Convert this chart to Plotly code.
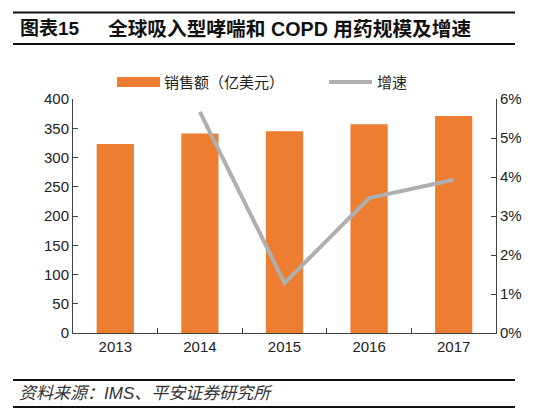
import plotly.graph_objects as go

years = ["2013", "2014", "2015", "2016", "2017"]
sales = [323, 341, 345, 357, 371]
growth = [None, 0.0567, 0.0128, 0.0346, 0.0393]

title_no = "图表15"
title_text = "全球吸入型哮喘和 COPD 用药规模及增速"
source_text = "资料来源：IMS、平安证券研究所"
bar_name = "销售额（亿美元）"
line_name = "增速"

bar_color = "#ED7D31"
line_color = "#AFAFAF"
axis_color = "#404040"
font_lat = "Liberation Sans, Arial, Noto Sans CJK SC"
font_cjk = "Liberation Sans, Noto Sans CJK SC"

# the page body has an 8px margin, so the figure is drawn 8px smaller and
# every position below is given in page pixels and shifted back by OFF
OFF = 8
W, H = 554 - OFF, 418 - OFF
ml, mr, mt, mb = 73 - OFF, 58, 99 - OFF, 85
pw, ph = W - ml - mr, H - mt - mb


def px(x):
    return (x - OFF - ml) / pw


def py(y):
    return (H - mb - (y - OFF)) / ph


fig = go.Figure()
fig.add_trace(go.Bar(x=years, y=sales, name=bar_name, marker_color=bar_color,
                     marker_line_width=0, showlegend=False))
fig.add_trace(go.Scatter(x=years, y=growth, name=line_name, yaxis="y2",
                         mode="lines", line=dict(color=line_color, width=4),
                         showlegend=False))

shapes = []
# title rules and source rules
for yy in [12.5, 44, 380, 407]:
    shapes.append(dict(type="line", xref="paper", yref="paper",
                       x0=px(13), x1=px(515), y0=py(yy), y1=py(yy),
                       line=dict(color="#111", width=2)))
# manual legend
shapes.append(dict(type="rect", xref="paper", yref="paper",
                   x0=px(117), x1=px(160), y0=py(87), y1=py(77),
                   fillcolor=bar_color, line_width=0))
shapes.append(dict(type="line", xref="paper", yref="paper",
                   x0=px(329), x1=px(372), y0=py(82), y1=py(82),
                   line=dict(color=line_color, width=4)))

annotations = [
    dict(text="<b>" + title_no + "</b>", x=px(18), y=py(29), xref="paper", yref="paper",
         xanchor="left", yanchor="middle", showarrow=False,
         font=dict(size=19, color="#111", family=font_cjk)),
    dict(text="<b>" + title_text + "</b>", x=px(106), y=py(29), xref="paper", yref="paper",
         xanchor="left", yanchor="middle", showarrow=False,
         font=dict(size=19.7, color="#111", family=font_cjk)),
    dict(text=bar_name, x=px(162), y=py(82), xref="paper", yref="paper",
         xanchor="left", yanchor="middle", showarrow=False,
         font=dict(size=15, color="#222", family=font_cjk)),
    dict(text=line_name, x=px(375), y=py(82), xref="paper", yref="paper",
         xanchor="left", yanchor="middle", showarrow=False,
         font=dict(size=15, color="#222", family=font_cjk)),
    dict(text="<i>" + source_text + "</i>", x=px(17), y=py(393), xref="paper", yref="paper",
         xanchor="left", yanchor="middle", showarrow=False,
         font=dict(size=17, color="#333", family=font_cjk)),
]

fig.update_layout(
    width=W, height=H,
    margin=dict(l=ml, r=mr, t=mt, b=mb),
    paper_bgcolor="white", plot_bgcolor="white",
    bargap=0.56,
    showlegend=False,
    font=dict(family=font_lat, size=15, color="#222"),
    xaxis=dict(type="category", showline=True, linecolor=axis_color, linewidth=1,
               ticks="inside", ticklen=5, tickcolor=axis_color, tickson="boundaries",
               showgrid=False, tickfont=dict(size=15)),
    yaxis=dict(range=[0, 400], dtick=50, showline=True, linecolor=axis_color,
               ticks="inside", ticklen=5, tickcolor=axis_color, showgrid=False,
               zeroline=False, tickfont=dict(size=15)),
    yaxis2=dict(range=[0, 0.06], dtick=0.01, tickformat=".0%", overlaying="y",
                side="right", showline=True, linecolor=axis_color, ticks="inside",
                ticklen=5, tickcolor=axis_color, showgrid=False, zeroline=False,
                tickfont=dict(size=15)),
    shapes=shapes,
    annotations=annotations,
)

fig.write_html("out.html")
